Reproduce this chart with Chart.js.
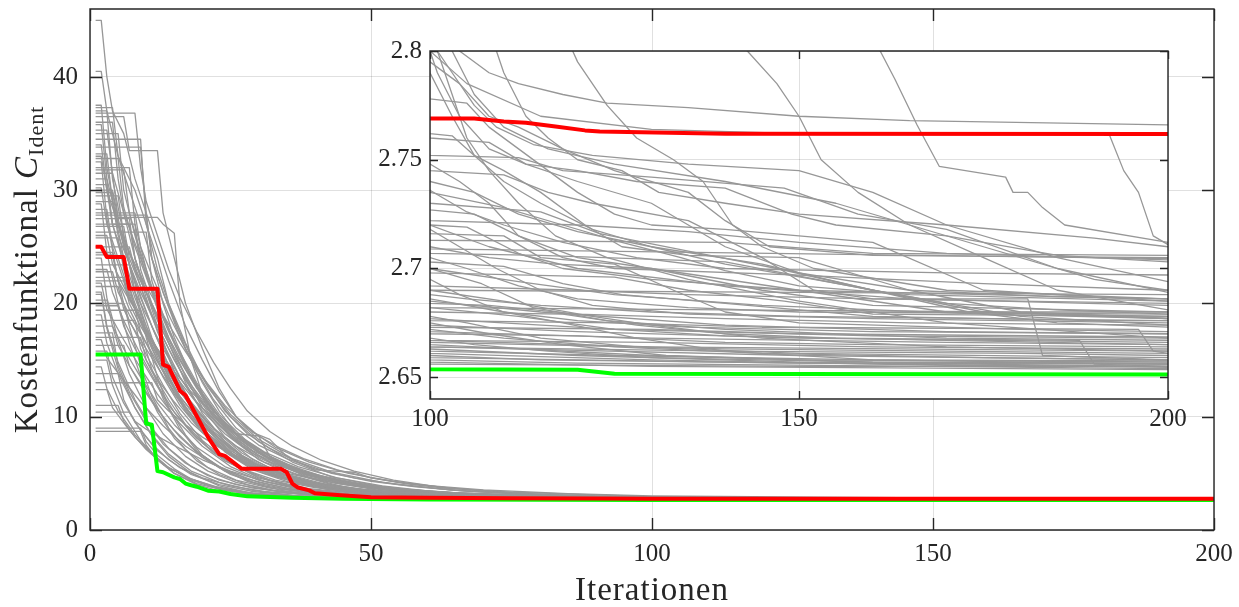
<!DOCTYPE html>
<html lang="de">
<head>
<meta charset="utf-8">
<title>Kostenfunktional über Iterationen</title>
<script src="https://cdn.jsdelivr.net/npm/chart.js@4"></script>
<style>
  html, body { margin: 0; padding: 0; background: #fff; }
  #wrap { position: relative; width: 1239px; height: 607px; }
  #wrap canvas { position: absolute; left: 0; top: 0; }
</style>
</head>
<body>
<div id="wrap">
  <canvas id="mainChart" width="1239" height="607"></canvas>
  <canvas id="zoomChart" width="1239" height="607"></canvas>
</div>
<script>
// axis ranges and tick labels
const iterTicks = [0, 50, 100, 150, 200];
const costTicks = [0, 10, 20, 30, 40];
const zoomIterTicks = [100, 150, 200];
const zoomCostTicks = [2.65, 2.7, 2.75, 2.8];
const iterRange = [0, 200];
const costRange = [0, 46];
const zoomIterRange = [100, 200];
const zoomCostRange = [2.64, 2.8];

// worst run (red) and best run (green), as [iteration, cost] knots
const redRun = [[1,25],[2,25],[3,24.1],[6,24.1],[7,21.3],[12,21.3],[13,14.6],[14,14.4],[16,12.3],[17,11.9],[21,8.2],[23,6.7],[24,6.55],[27,5.4],[34,5.4],[35,5.1],[36,4.1],[37,3.75],[39,3.5],[40,3.25],[44,3.1],[50,2.9],[60,2.84],[75,2.8],[90,2.775],[100,2.769],[106,2.769],[110,2.7676],[113,2.767],[117,2.7653],[121,2.7635],[123,2.763],[140,2.762],[200,2.7618]];
const greenRun = [[1,15.5],[9,15.5],[10,9.4],[11,9.3],[12,5.2],[13,5.1],[15,4.65],[16,4.5],[17,4.1],[18,3.95],[19,3.82],[21,3.47],[23,3.4],[25,3.18],[28,2.97],[36,2.85],[45,2.75],[60,2.69],[80,2.66],[100,2.6537],[120,2.6535],[125,2.6516],[200,2.6513]];

// all other optimisation runs
const grayRuns = [
  [[1,34.5],[9,34.5],[10,27],[12,24],[14,20],[17,16],[20,13],[23,10.5],[26,8.5],[30,7],[35,5.8],[41,4.8],[48,4.1],[56,3.6],[66,3.25],[80,3.05],[96,2.9],[104,2.8],[108,2.79],[112,2.785],[118,2.78],[124,2.776],[135,2.774],[150,2.77],[165,2.768],[200,2.766]],
  [[1,40.5],[2,40.5],[3,37],[5,33],[7,30],[9,27],[11,24],[13,21],[16,17],[19,14],[22,11.5],[26,9],[30,7.5],[35,6.3],[40,5.4],[47,4.6],[55,4],[65,3.5],[78,3.15],[90,2.97],[100,2.86],[108,2.81],[110,2.79],[113,2.77],[116,2.76],[120,2.75],[126,2.745],[131,2.735],[140,2.73],[150,2.725],[170,2.72],[190,2.714],[200,2.71]],
  [[1,37.3],[4,37.3],[5,33],[8,30],[10,27],[12,23],[14,20],[17,16.5],[20,13.5],[24,10.5],[28,8.5],[32,7.2],[37,6],[43,5],[50,4.3],[58,3.8],[68,3.4],[82,3.12],[100,2.9],[118,2.81],[120,2.795],[124,2.775],[128,2.76],[133,2.75],[137,2.74],[141,2.72],[145,2.71],[152,2.7],[170,2.69],[200,2.686]],
  [[1,36.5],[6,36.5],[7,33.5],[12,33.5],[13,28],[15,24],[17,20],[20,16],[23,12.5],[26,10],[29,8.6],[32,8],[35,6.5],[40,5.3],[47,5.1],[50,4.6],[56,4.1],[63,3.7],[75,3.35],[90,3.1],[100,2.95],[120,2.86],[140,2.81],[143,2.8],[147,2.785],[150,2.77],[153,2.75],[158,2.735],[165,2.72],[175,2.705],[185,2.69],[200,2.681]],
  [[1,45],[2,45],[3,40],[4,37],[6,35],[8,31],[10,28],[12,25],[14,22],[17,18],[20,15],[23,12.2],[26,10],[30,8.3],[34,7.2],[38,6.3],[44,5.3],[50,4.6],[58,4],[70,3.55],[85,3.2],[100,3],[130,2.9],[158,2.81],[161,2.8],[163,2.787],[166,2.766],[169,2.747],[178,2.742],[179,2.735],[181,2.735],[183,2.728],[186,2.72],[200,2.712]],
  [[1,31],[3,31],[4,27],[7,27],[8,24],[10,21],[12,18],[15,14],[18,11],[21,8.8],[25,6.8],[30,5.4],[36,4.4],[43,3.8],[52,3.4],[65,3.1],[80,2.92],[100,2.8],[105,2.785],[115,2.77],[130,2.764],[150,2.762],[192,2.762],[194,2.745],[196,2.735],[198,2.715],[200,2.711]],
  [[1,35.8],[2,35.8],[3,31],[5,27],[7,23.5],[9,20],[11,17],[14,13.5],[17,10.8],[21,8.3],[26,6.4],[32,5],[39,4.1],[48,3.55],[60,3.2],[78,2.95],[100,2.795],[104,2.785],[108,2.77],[112,2.765],[118,2.755],[125,2.745],[135,2.735],[140,2.722],[146,2.71],[160,2.706],[200,2.705]],
  [[1,29.5],[5,29.5],[6,26],[8,23],[10,20],[13,16.5],[16,13.5],[20,10.5],[24,8.5],[28,7],[33,5.8],[39,4.8],[46,4.1],[55,3.6],[66,3.25],[82,2.97],[100,2.778],[105,2.776],[108,2.765],[112,2.755],[116,2.745],[120,2.735],[125,2.725],[130,2.72],[140,2.718],[160,2.712],[175,2.69],[200,2.685]],
  [[1,33.2],[3,33.2],[4,29],[6,25],[8,22],[11,18],[14,14.5],[18,11],[22,8.5],[27,6.5],[32,5.2],[38,4.3],[46,3.7],[56,3.3],[70,3.02],[85,2.86],[100,2.762],[103,2.761],[106,2.752],[110,2.745],[115,2.735],[121,2.72],[126,2.71],[135,2.706],[150,2.705],[165,2.69],[180,2.68],[200,2.677]],
  [[1,27],[8,27],[9,23],[11,20],[13,17.5],[16,14.5],[19,12],[22,10],[26,8],[30,6.6],[35,5.5],[41,4.6],[48,4],[57,3.5],[70,3.1],[85,2.88],[100,2.76],[108,2.758],[113,2.748],[120,2.745],[128,2.74],[140,2.737],[149,2.725],[155,2.72],[170,2.715],[185,2.706],[200,2.703]],
  [[1,24.5],[4,24.5],[5,22],[7,19.5],[10,16.5],[13,13.5],[16,11],[20,8.6],[25,6.6],[30,5.3],[36,4.4],[43,3.8],[52,3.35],[63,3.07],[78,2.9],[90,2.8],[100,2.752],[112,2.751],[118,2.745],[130,2.742],[148,2.737],[158,2.725],[170,2.718],[185,2.7],[200,2.689]],
  [[1,37],[3,37],[4,31],[6,26],[8,21],[10,17],[12,13.5],[14,10.8],[17,8.4],[20,6.6],[24,5.2],[29,4.2],[35,3.6],[43,3.2],[55,2.98],[72,2.84],[100,2.748],[104,2.74],[108,2.73],[112,2.715],[118,2.705],[125,2.7],[150,2.697],[175,2.693],[200,2.69]],
  [[1,22],[6,22],[7,20],[9,18],[12,15.5],[15,13],[18,11],[22,9],[26,7.4],[31,6],[37,4.9],[44,4.1],[52,3.55],[62,3.2],[75,2.97],[88,2.83],[100,2.745],[110,2.743],[116,2.735],[122,2.73],[135,2.722],[145,2.705],[152,2.69],[160,2.686],[200,2.684]],
  [[1,30.2],[2,30.2],[3,27],[5,24],[7,21],[9,18.5],[12,15],[15,12],[19,9.3],[23,7.3],[28,5.7],[34,4.6],[41,3.9],[50,3.4],[62,3.08],[80,2.86],[100,2.736],[105,2.726],[110,2.72],[118,2.712],[128,2.705],[140,2.7],[170,2.698],[200,2.697]],
  [[1,19.8],[5,19.8],[6,18],[8,16],[11,13.5],[14,11],[18,8.6],[22,6.8],[27,5.4],[33,4.4],[40,3.75],[50,3.3],[62,3.02],[80,2.83],[100,2.727],[106,2.725],[112,2.715],[120,2.705],[130,2.7],[145,2.69],[160,2.683],[200,2.68]],
  [[1,26.3],[10,26.3],[11,22],[13,19],[15,16.5],[18,13.5],[21,11],[25,8.8],[29,7.2],[34,5.8],[40,4.8],[47,4.1],[56,3.55],[68,3.15],[84,2.88],[100,2.722],[120,2.72],[135,2.717],[150,2.712],[170,2.707],[200,2.704]],
  [[1,32.5],[2,32.5],[3,27.5],[5,22],[7,18],[9,14.5],[11,11.8],[14,9],[17,7.1],[21,5.5],[26,4.4],[32,3.7],[40,3.25],[50,3],[64,2.85],[82,2.76],[100,2.72],[105,2.719],[112,2.707],[118,2.7],[130,2.695],[150,2.69],[175,2.688],[200,2.686]],
  [[1,17.4],[4,17.4],[5,14.5],[7,12.2],[10,9.6],[13,7.6],[17,5.9],[21,4.8],[26,4],[33,3.45],[42,3.1],[54,2.92],[70,2.8],[100,2.718],[104,2.71],[109,2.7],[115,2.69],[122,2.683],[135,2.679],[160,2.677],[200,2.675]],
  [[1,28.3],[3,28.3],[4,25],[6,22],[8,19.5],[11,16],[14,13],[17,10.5],[21,8.2],[26,6.3],[31,5],[37,4.2],[45,3.6],[56,3.2],[72,2.92],[88,2.78],[100,2.716],[110,2.715],[115,2.705],[125,2.702],[133,2.69],[140,2.68],[150,2.675],[180,2.672],[200,2.671]],
  [[1,23.4],[7,23.4],[8,21],[10,19],[13,16],[16,13.5],[19,11.3],[23,9.2],[27,7.5],[32,6],[38,4.9],[45,4.1],[54,3.5],[66,3.1],[82,2.85],[100,2.713],[140,2.712],[160,2.707],[200,2.706]],
  [[1,36],[4,36],[5,31],[6,28],[8,24],[10,20.5],[12,17.5],[15,14],[18,11.2],[22,8.7],[27,6.6],[33,5.1],[40,4.2],[49,3.55],[60,3.15],[78,2.88],[100,2.71],[108,2.705],[117,2.702],[130,2.7],[150,2.69],[170,2.68],[200,2.678]],
  [[1,15.8],[3,15.8],[4,13.5],[6,11.2],[9,8.8],[12,7],[16,5.5],[20,4.6],[25,3.9],[31,3.4],[40,3.05],[52,2.87],[70,2.76],[100,2.709],[200,2.7045]],
  [[1,31.8],[6,31.8],[7,28],[9,24.5],[11,21.5],[13,19],[16,15.5],[19,12.8],[23,10],[27,8],[32,6.3],[38,5],[45,4.1],[54,3.5],[66,3.1],[82,2.85],[100,2.707],[115,2.706],[140,2.703],[160,2.69],[180,2.678],[200,2.674]],
  [[1,21],[2,21],[3,18],[5,14.8],[8,11.5],[11,9],[14,7.2],[18,5.6],[23,4.4],[29,3.7],[36,3.25],[46,2.98],[60,2.83],[80,2.74],[100,2.705],[105,2.7],[112,2.692],[120,2.686],[135,2.682],[150,2.68],[200,2.679]],
  [[1,25.8],[5,25.8],[6,23],[8,20],[10,17.5],[13,14.2],[16,11.5],[20,8.9],[25,6.7],[30,5.3],[36,4.3],[44,3.65],[54,3.2],[68,2.94],[84,2.79],[100,2.703],[110,2.701],[118,2.693],[126,2.688],[140,2.684],[160,2.678],[190,2.676],[200,2.676]],
  [[1,18.5],[8,18.5],[9,16],[11,14],[14,11.5],[17,9.3],[21,7.3],[26,5.6],[32,4.4],[39,3.65],[48,3.2],[60,2.93],[78,2.78],[100,2.7],[107,2.693],[114,2.682],[124,2.676],[140,2.672],[170,2.668],[200,2.667]],
  [[1,34],[2,34],[3,30],[4,27],[6,24],[8,21],[10,18],[13,14.5],[16,11.8],[20,9.2],[25,7],[31,5.4],[38,4.3],[47,3.6],[58,3.15],[76,2.86],[100,2.698],[125,2.696],[135,2.69],[148,2.685],[160,2.679],[200,2.678]],
  [[1,13.8],[5,13.8],[6,11.5],[8,9.5],[11,7.6],[14,6.2],[18,4.9],[23,4],[29,3.4],[37,3.02],[48,2.84],[65,2.75],[100,2.695],[104,2.688],[110,2.68],[120,2.676],[135,2.673],[160,2.671],[200,2.67]],
  [[1,29],[4,29],[5,26],[7,23.5],[9,21],[12,18],[15,15],[18,12.5],[22,10],[26,8.2],[31,6.6],[37,5.3],[44,4.3],[53,3.6],[65,3.15],[82,2.85],[100,2.692],[120,2.69],[135,2.688],[160,2.686],[181,2.686],[183,2.66],[200,2.658]],
  [[1,20.3],[3,20.3],[4,18],[6,16],[9,13.5],[12,11.2],[15,9.3],[19,7.3],[24,5.6],[30,4.4],[37,3.65],[46,3.2],[58,2.93],[76,2.78],[100,2.69],[112,2.684],[122,2.678],[130,2.674],[145,2.668],[170,2.664],[200,2.662]],
  [[1,27.5],[7,27.5],[8,24],[10,21],[12,18.5],[15,15.5],[18,12.8],[22,10.2],[26,8.2],[31,6.5],[37,5.2],[44,4.2],[53,3.55],[64,3.1],[80,2.83],[100,2.688],[105,2.686],[115,2.683],[130,2.68],[150,2.678],[200,2.676]],
  [[1,12.4],[3,12.4],[4,10.8],[7,8.8],[10,7.1],[13,5.8],[17,4.7],[22,3.85],[28,3.3],[36,2.98],[47,2.82],[65,2.73],[100,2.686],[110,2.68],[118,2.675],[128,2.668],[140,2.662],[160,2.658],[200,2.656]],
  [[1,33.8],[9,33.8],[10,28],[11,24],[13,20],[15,17],[18,13.5],[21,10.8],[25,8.3],[30,6.2],[36,4.8],[43,3.9],[52,3.35],[64,3],[80,2.8],[100,2.684],[108,2.683],[120,2.679],[140,2.677],[165,2.675],[200,2.674]],
  [[1,24],[2,24],[3,20.5],[5,16.8],[7,13.8],[10,10.8],[13,8.5],[17,6.5],[21,5.2],[26,4.2],[32,3.55],[40,3.1],[50,2.88],[65,2.76],[100,2.682],[112,2.678],[125,2.672],[140,2.669],[170,2.667],[200,2.665]],
  [[1,16.3],[6,16.3],[7,14.5],[9,12.8],[12,10.6],[15,8.8],[19,6.9],[24,5.3],[30,4.2],[37,3.5],[46,3.08],[58,2.86],[75,2.74],[100,2.68],[118,2.679],[128,2.674],[140,2.67],[155,2.668],[188,2.667],[190,2.656],[200,2.655]],
  [[1,30.5],[3,30.5],[4,27],[6,23.5],[8,20.5],[10,18],[13,14.5],[16,11.6],[20,8.8],[24,6.9],[29,5.3],[35,4.3],[42,3.6],[52,3.1],[66,2.86],[82,2.74],[100,2.678],[105,2.675],[115,2.668],[128,2.664],[150,2.661],[200,2.659]],
  [[1,22.8],[4,22.8],[5,21],[7,19],[10,16.5],[13,14],[16,11.8],[20,9.4],[25,7.2],[30,5.7],[36,4.6],[43,3.8],[52,3.3],[64,2.98],[80,2.78],[100,2.676],[125,2.675],[145,2.673],[196,2.672],[198,2.662],[200,2.661]],
  [[1,11],[5,11],[6,9.6],[8,8.2],[11,6.7],[14,5.5],[18,4.5],[23,3.75],[29,3.25],[37,2.95],[50,2.78],[70,2.71],[100,2.675],[108,2.67],[118,2.665],[132,2.66],[160,2.657],[200,2.656]],
  [[1,35],[5,35],[6,30],[8,26],[10,22.5],[12,19.5],[14,17],[17,13.5],[20,10.8],[24,8.2],[29,6.2],[35,4.8],[42,3.9],[51,3.3],[63,2.95],[80,2.76],[100,2.673],[130,2.672],[150,2.67],[200,2.6685]],
  [[1,19],[2,19],[3,16.5],[5,13.8],[8,10.8],[11,8.4],[14,6.7],[18,5.2],[23,4.2],[29,3.5],[36,3.06],[46,2.85],[62,2.74],[100,2.672],[110,2.668],[125,2.664],[145,2.661],[175,2.659],[200,2.658]],
  [[1,26.8],[6,26.8],[7,24],[9,21.5],[11,19],[14,16],[17,13.2],[21,10.4],[25,8.2],[30,6.4],[36,5],[43,4],[51,3.4],[62,3],[78,2.78],[100,2.67],[120,2.669],[140,2.666],[160,2.665],[200,2.664]],
  [[1,14.4],[2,14.4],[3,12.5],[5,10.5],[8,8.4],[11,6.8],[14,5.5],[18,4.4],[23,3.6],[30,3.05],[40,2.84],[58,2.71],[100,2.668],[106,2.665],[116,2.662],[130,2.659],[160,2.657],[200,2.6565]],
  [[1,31.5],[4,31.5],[5,27.5],[7,23.5],[9,20.5],[11,18],[14,14.5],[17,11.6],[21,8.9],[26,6.7],[31,5.2],[38,4.1],[46,3.4],[57,2.98],[72,2.78],[100,2.667],[130,2.666],[160,2.664],[200,2.663]],
  [[1,17],[9,17],[10,15],[12,13.3],[15,11.3],[18,9.5],[22,7.7],[27,6],[33,4.7],[40,3.8],[48,3.25],[58,2.93],[72,2.76],[100,2.665],[112,2.663],[130,2.66],[150,2.658],[200,2.657]],
  [[1,28.8],[2,28.8],[3,24.5],[5,20],[7,16.5],[9,13.6],[12,10.4],[15,8.1],[19,6.1],[23,4.9],[28,4],[34,3.35],[42,2.95],[53,2.77],[70,2.7],[100,2.664],[140,2.662],[180,2.661],[200,2.66]],
  [[1,21.5],[5,21.5],[6,19.5],[8,17.5],[10,15.5],[13,12.8],[16,10.3],[20,7.9],[25,5.9],[30,4.6],[37,3.7],[46,3.1],[58,2.8],[75,2.7],[100,2.663],[120,2.66],[150,2.657],[200,2.655]],
  [[1,9],[9,9],[10,7.8],[12,6.6],[15,5.4],[18,4.5],[22,3.8],[27,3.3],[34,2.95],[45,2.78],[62,2.7],[100,2.662],[125,2.66],[160,2.658],[200,2.6575]],
  [[1,37.5],[2,37.5],[3,32],[5,26.5],[7,21.5],[9,17.5],[11,14.2],[13,11.6],[16,8.9],[19,7],[23,5.5],[28,4.3],[34,3.5],[41,3.05],[51,2.82],[66,2.71],[100,2.661],[130,2.658],[170,2.6555],[200,2.655]],
  [[1,18],[4,18],[5,16.3],[7,14.5],[10,12.2],[13,10],[16,8.2],[20,6.4],[25,4.9],[31,3.9],[39,3.25],[50,2.88],[65,2.74],[100,2.66],[115,2.658],[150,2.6565],[200,2.656]],
  [[1,25],[7,25],[8,23],[10,21],[12,19],[14,17],[17,14.2],[20,11.8],[24,9.3],[28,7.5],[33,5.9],[39,4.6],[46,3.7],[55,3.1],[68,2.8],[100,2.659],[140,2.657],[200,2.6545]],
  [[1,15],[3,15],[4,12.8],[6,10.3],[9,7.9],[12,6.2],[15,5],[19,4],[24,3.3],[31,3],[42,2.82],[60,2.72],[100,2.658],[120,2.6565],[200,2.654]],
  [[1,32],[7,32],[8,27],[10,23],[12,19.5],[14,16.5],[17,13],[20,10.3],[24,7.8],[29,5.8],[35,4.5],[42,3.6],[51,3.05],[64,2.78],[100,2.657],[130,2.655],[200,2.6535]],
  [[1,20.8],[2,20.8],[3,17.8],[5,14.2],[8,10.8],[11,8.3],[14,6.5],[18,5],[23,3.9],[29,3.2],[37,2.9],[50,2.75],[100,2.656],[150,2.655],[200,2.655]],
  [[1,23],[3,23],[4,21],[6,18.5],[9,15.5],[12,12.8],[15,10.4],[19,8.1],[24,6.1],[30,4.7],[37,3.75],[46,3.15],[58,2.86],[75,2.74],[100,2.682],[140,2.681],[180,2.68],[200,2.68]],
  [[1,10.4],[7,10.4],[8,9.6],[10,8.9],[13,8],[16,7.2],[20,6.2],[25,5.2],[31,4.3],[38,3.6],[46,3.15],[56,2.9],[72,2.77],[100,2.69],[150,2.689],[200,2.688]],
  [[1,36.8],[8,36.8],[9,32],[10,29],[12,26],[14,23],[16,20.5],[19,17.5],[22,14.8],[25,12.5],[28,10.5],[32,8.7],[36,7.4],[41,6.2],[47,5.2],[54,4.4],[62,3.8],[72,3.35],[85,3],[100,2.735],[110,2.728],[118,2.72],[126,2.712],[134,2.705],[140,2.699],[150,2.692],[165,2.688],[200,2.685]],
  [[1,29.8],[4,29.8],[5,27],[7,24.5],[9,22],[12,18.8],[15,15.8],[19,12.5],[23,10],[27,8.1],[32,6.5],[38,5.2],[45,4.3],[53,3.7],[64,3.25],[78,2.95],[90,2.82],[100,2.74],[106,2.735],[112,2.725],[120,2.717],[130,2.71],[140,2.702],[152,2.695],[170,2.684],[185,2.681],[200,2.679]],
  [[1,19.4],[9,19.4],[10,17.5],[12,16],[15,14],[18,12.2],[22,10.2],[26,8.5],[31,6.9],[37,5.6],[44,4.6],[52,3.9],[62,3.35],[76,2.98],[90,2.8],[100,2.73],[115,2.726],[123,2.716],[135,2.708],[147,2.7],[160,2.69],[173,2.68],[185,2.675],[200,2.673]],
  [[1,33],[2,33],[3,30],[5,27],[7,24.5],[10,21.5],[13,19],[16,16.5],[20,13.5],[24,11],[28,9],[33,7.3],[39,6],[46,5],[54,4.3],[64,3.7],[76,3.25],[90,2.95],[100,2.79],[103,2.77],[106,2.752],[110,2.74],[115,2.73],[122,2.718],[130,2.71],[145,2.702],[160,2.69],[175,2.68],[200,2.677]],
  [[1,27.8],[10,27.8],[11,24],[13,21],[15,18.5],[18,15.3],[21,12.8],[25,10.2],[30,8],[36,6.3],[43,5.1],[52,4.2],[64,3.55],[80,3.05],[100,2.8],[101,2.79],[104,2.77],[108,2.755],[113,2.748],[120,2.74],[130,2.73],[140,2.71],[150,2.698],[165,2.69],[185,2.687],[200,2.686]],
  [[1,13],[11,13],[12,11.5],[14,10.5],[17,9.3],[20,8.2],[24,7],[29,5.9],[35,5],[42,4.3],[50,3.8],[62,3.35],[78,3.05],[100,2.83],[101,2.8],[103,2.79],[106,2.775],[109,2.765],[114,2.757],[122,2.752],[135,2.748],[150,2.745],[160,2.735],[170,2.72],[185,2.705],[200,2.694]],
  [[1,22.3],[6,22.3],[7,20.5],[9,18.5],[12,16],[15,13.7],[19,11.2],[24,8.8],[29,7],[35,5.6],[43,4.5],[53,3.7],[67,3.2],[84,2.95],[100,2.81],[102,2.79],[105,2.76],[108,2.745],[112,2.73],[117,2.715],[124,2.705],[135,2.695],[150,2.685],[170,2.675],[200,2.668]],
  [[1,30],[4,30],[5,27.6],[12,27.6],[13,27],[15,26.2],[16,20],[18,15],[20,12],[23,9.5],[26,8.5],[30,8.3],[32,6.5],[36,5.3],[42,4.5],[50,3.9],[60,3.4],[75,3.05],[90,2.9],[100,2.84],[103,2.8],[106,2.78],[110,2.765],[116,2.755],[125,2.748],[140,2.74],[155,2.73],[175,2.71],[190,2.695],[200,2.69]],
  [[1,8.7],[9,8.7],[10,7.5],[12,6.2],[15,5],[19,4.1],[24,3.5],[30,3.08],[39,2.88],[55,2.74],[100,2.664],[150,2.66],[200,2.658]],
  [[1,26],[3,26],[4,23.5],[7,20.5],[10,17.5],[13,14.8],[16,12.2],[20,9.6],[24,7.6],[29,5.9],[35,4.6],[42,3.75],[51,3.2],[63,2.9],[80,2.75],[100,2.674],[120,2.671],[150,2.668],[200,2.666]],
  [[1,32.8],[5,32.8],[6,28.5],[8,25],[11,21],[14,17.5],[17,14.4],[21,11.2],[25,8.8],[30,6.8],[36,5.3],[43,4.2],[52,3.45],[64,3],[80,2.78],[100,2.685],[115,2.68],[140,2.674],[170,2.671],[200,2.67]],
  [[1,20],[6,20],[7,18.4],[10,16],[13,13.6],[17,10.8],[21,8.5],[26,6.5],[32,5],[39,4],[48,3.35],[60,2.95],[78,2.76],[100,2.671],[130,2.668],[170,2.666],[200,2.665]],
  [[1,35.3],[3,35.3],[4,31.5],[6,28],[9,24],[12,20],[15,16.6],[19,13],[23,10.2],[28,7.8],[34,5.9],[41,4.6],[50,3.7],[62,3.15],[80,2.85],[100,2.7],[112,2.694],[125,2.688],[145,2.683],[175,2.679],[200,2.677]],
  [[1,16.8],[2,16.8],[3,15.2],[6,13.2],[9,11.3],[13,9.2],[17,7.4],[22,5.8],[28,4.5],[35,3.7],[44,3.15],[56,2.85],[75,2.72],[100,2.666],[140,2.663],[200,2.661]],
  [[1,28],[8,28],[9,25],[11,22.5],[14,19],[17,16],[21,12.6],[25,10],[30,7.8],[36,6],[43,4.7],[52,3.8],[64,3.2],[80,2.88],[100,2.72],[108,2.71],[120,2.7],[140,2.692],[165,2.686],[200,2.683]],
  [[1,24.3],[4,24.3],[5,22],[8,19.5],[11,16.8],[14,14.2],[18,11.3],[22,8.9],[27,6.8],[33,5.2],[40,4.1],[49,3.4],[61,2.97],[78,2.76],[100,2.667],[130,2.664],[200,2.662]],
  [[1,21.8],[2,21.8],[3,19.5],[6,16.8],[9,14.3],[12,12],[16,9.4],[20,7.4],[25,5.6],[31,4.3],[38,3.5],[47,3.05],[60,2.8],[80,2.7],[100,2.677],[125,2.672],[160,2.669],[200,2.668]]
];

const FONT = '"Liberation Serif", "Times New Roman", serif';
const INK = '#262626';
const GRID = 'rgba(0, 0, 0, 0.12)';

const toPoints = run => run.map(([x, y]) => ({ x, y }));

function runDatasets(thick) {
  const line = (run, color, width, order) => ({
    data: toPoints(run), borderColor: color, borderWidth: width, order,
    pointRadius: 0, tension: 0, fill: false, clip: 0, borderJoinStyle: 'round'
  });
  const sets = grayRuns.map(run => line(run, '#979797', 1.3, 2));
  sets.push(line(greenRun, '#00ff00', thick, 1));
  sets.push(line(redRun, '#ff0000', thick, 0));
  return sets;
}

function axis(range, ticks, size, pad, horizontal) {
  return {
    type: 'linear', min: range[0], max: range[1],
    afterBuildTicks: s => { s.ticks = ticks.map(v => ({ value: v })); },
    afterFit: s => {
      if (horizontal) { s.height = size; s.paddingLeft = 0; s.paddingRight = 0; }
      else { s.width = size; s.paddingTop = 0; s.paddingBottom = 0; }
    },
    grid: { color: GRID, lineWidth: 1, drawTicks: false },
    border: { display: false },
    ticks: {
      color: INK, padding: pad, maxRotation: 0, autoSkip: false,
      font: { family: FONT, size: 25 },
      callback: v => String(v)
    }
  };
}

// box around the plot area with inward pointing ticks on all four sides
const frame = {
  id: 'frame',
  afterDatasetsDraw(chart, args, opts) {
    const { ctx, chartArea: a, scales: { x, y } } = chart;
    ctx.save();
    ctx.strokeStyle = INK;
    ctx.lineWidth = opts.width;
    ctx.beginPath();
    x.ticks.forEach(t => {
      const px = Math.round(x.getPixelForValue(t.value)) + 0.5;
      ctx.moveTo(px, a.bottom); ctx.lineTo(px, a.bottom - opts.tick);
      ctx.moveTo(px, a.top); ctx.lineTo(px, a.top + opts.tick);
    });
    y.ticks.forEach(t => {
      const py = Math.round(y.getPixelForValue(t.value)) + 0.5;
      ctx.moveTo(a.left, py); ctx.lineTo(a.left + opts.tick, py);
      ctx.moveTo(a.right, py); ctx.lineTo(a.right - opts.tick, py);
    });
    ctx.rect(a.left, a.top, a.right - a.left, a.bottom - a.top);
    ctx.stroke();
    ctx.restore();
  }
};

// white background behind the zoomed axes
const paper = {
  id: 'paper',
  beforeDraw(chart) {
    const { ctx, chartArea: a } = chart;
    ctx.save();
    ctx.fillStyle = '#ffffff';
    ctx.fillRect(a.left, a.top, a.right - a.left, a.bottom - a.top);
    ctx.restore();
  }
};

// axis titles, the y title carries the subscript "Ident"
const titles = {
  id: 'titles',
  afterDraw(chart) {
    const { ctx, chartArea: a } = chart;
    ctx.save();
    ctx.fillStyle = INK;
    ctx.textBaseline = 'alphabetic';
    ctx.textAlign = 'center';
    ctx.letterSpacing = '1px';
    ctx.font = `33px ${FONT}`;
    ctx.fillText('Iterationen', (a.left + a.right) / 2, 600);

    ctx.translate(37, (a.top + a.bottom) / 2);
    ctx.rotate(-Math.PI / 2);
    ctx.textAlign = 'left';
    const word = 'Kostenfunktional ';
    ctx.font = `33px ${FONT}`;
    const w1 = ctx.measureText(word).width;
    ctx.font = `italic 33px ${FONT}`;
    const w2 = ctx.measureText('C').width;
    ctx.font = `22px ${FONT}`;
    const w3 = ctx.measureText('Ident').width;
    let cx = -(w1 + w2 + w3) / 2;
    ctx.font = `33px ${FONT}`;
    ctx.fillText(word, cx, 0);
    cx += w1;
    ctx.font = `italic 33px ${FONT}`;
    ctx.fillText('C', cx, 0);
    cx += w2;
    ctx.font = `22px ${FONT}`;
    ctx.fillText('Ident', cx, 6);
    ctx.restore();
  }
};

const baseOptions = (padding, scales, tick) => ({
  responsive: false,
  animation: false,
  devicePixelRatio: 1,
  events: [],
  layout: { padding, autoPadding: false },
  plugins: { legend: { display: false }, tooltip: { enabled: false }, frame: { tick, width: 1.4 } },
  scales
});

new Chart(document.getElementById('mainChart'), {
  type: 'line',
  data: { datasets: runDatasets(4) },
  options: baseOptions(
    { left: 0, top: 9, right: 25, bottom: 0 },
    { x: axis(iterRange, iterTicks, 77, 9, true), y: axis(costRange, costTicks, 90, 12, false) },
    12
  ),
  plugins: [frame, titles]
});

new Chart(document.getElementById('zoomChart'), {
  type: 'line',
  data: { datasets: runDatasets(4) },
  options: baseOptions(
    { left: 370, top: 51, right: 71, bottom: 168 },
    { x: axis(zoomIterRange, zoomIterTicks, 40, 5, true), y: axis(zoomCostRange, zoomCostTicks, 60, 8, false) },
    8
  ),
  plugins: [paper, frame]
});
</script>
</body>
</html>
